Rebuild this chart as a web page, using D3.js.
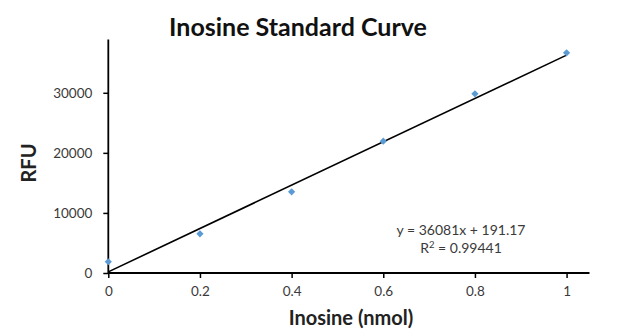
<!DOCTYPE html>
<html><head><meta charset="utf-8">
<script src="https://cdn.jsdelivr.net/npm/d3@7"></script>
<style>body{margin:0;background:#fff}svg{display:block}</style>
</head><body>
<script>
const title = "Inosine Standard Curve";
const xLabel = "Inosine (nmol)";
const yLabel = "RFU";
const xValues = [0, 0.2, 0.4, 0.6, 0.8, 1.0];
const yValues = [1870, 6530, 13520, 21940, 29830, 36660];
const xTicks = [0, 0.2, 0.4, 0.6, 0.8, 1];
const yTicks = [0, 10000, 20000, 30000];
const slope = 36081, intercept = 191.17;
const eqText = "y = 36081x + 191.17";
const r2Value = "0.99441";

const W = 640, H = 335;
const svg = d3.select("body").append("svg").attr("width", W).attr("height", H);
const font = "Lato, 'Open Sans', sans-serif";

const x = d3.scaleLinear().domain([0, 1.05]).range([108.3, 589.5]);
const y = d3.scaleLinear().domain([0, 38870]).range([273, 39.5]);

// axes
const xAxis = svg.append("g").attr("transform", `translate(0,${y(0)})`)
  .call(d3.axisBottom(x).tickValues(xTicks).tickSize(5).tickPadding(8).tickFormat(d3.format("~g")));
const yAxis = svg.append("g").attr("transform", `translate(${x(0)},0)`)
  .call(d3.axisLeft(y).tickValues(yTicks).tickSize(5).tickPadding(11).tickFormat(d3.format("d")));
[xAxis, yAxis].forEach(g => {
  g.select(".domain").attr("stroke", "#000").attr("stroke-width", 1.8);
  g.selectAll(".tick line").attr("stroke", "#000").attr("stroke-width", 1.5);
  g.selectAll(".tick text").attr("fill", "#3a3a3a").style("font-family", font).style("font-size", "13.5px");
});
xAxis.select(".domain").attr("d", `M${x(0)},0H${x(1.05)}`);
yAxis.select(".domain").attr("d", `M0,${y(38870)}V${y(0)}`);

// trendline
const line = d3.line().x(d => x(d)).y(d => y(slope * d + intercept));
svg.append("path").datum([0, 1]).attr("d", line)
  .attr("fill", "none").attr("stroke", "#000").attr("stroke-width", 1.6);

// points (diamond markers)
const sym = d3.symbol().type(d3.symbolSquare).size(26);
svg.append("g").selectAll("path").data(xValues.map((v, i) => [v, yValues[i]]))
  .join("path").attr("d", sym)
  .attr("transform", d => `translate(${x(d[0])},${y(d[1])}) rotate(45)`)
  .attr("fill", "#5b9bd5");

// title
svg.append("text").attr("x", 298).attr("y", 36).attr("text-anchor", "middle")
  .style("font-family", font).style("font-weight", "bold").style("font-size", "25px")
  .attr("fill", "#111").text(title);
// axis titles
svg.append("text").attr("x", 351).attr("y", 325).attr("text-anchor", "middle")
  .style("font-family", font).style("font-weight", "bold").style("font-size", "20px")
  .attr("fill", "#222").text(xLabel);
svg.append("text").attr("transform", "translate(36,163) rotate(-90)").attr("text-anchor", "middle")
  .style("font-family", font).style("font-weight", "bold").style("font-size", "20px")
  .attr("fill", "#222").text(yLabel);

// equation
const eq = svg.append("g").style("font-family", font).style("font-size", "14px").attr("fill", "#3a3a3a");
eq.append("text").attr("x", 461).attr("y", 235).attr("text-anchor", "middle").text(eqText);
const r2 = eq.append("text").attr("x", 461).attr("y", 253).attr("text-anchor", "middle");
r2.append("tspan").text("R");
r2.append("tspan").attr("dy", -5).style("font-size", "9.5px").text("2");
r2.append("tspan").attr("dy", 5).text(" = " + r2Value);
</script>
</body></html>
